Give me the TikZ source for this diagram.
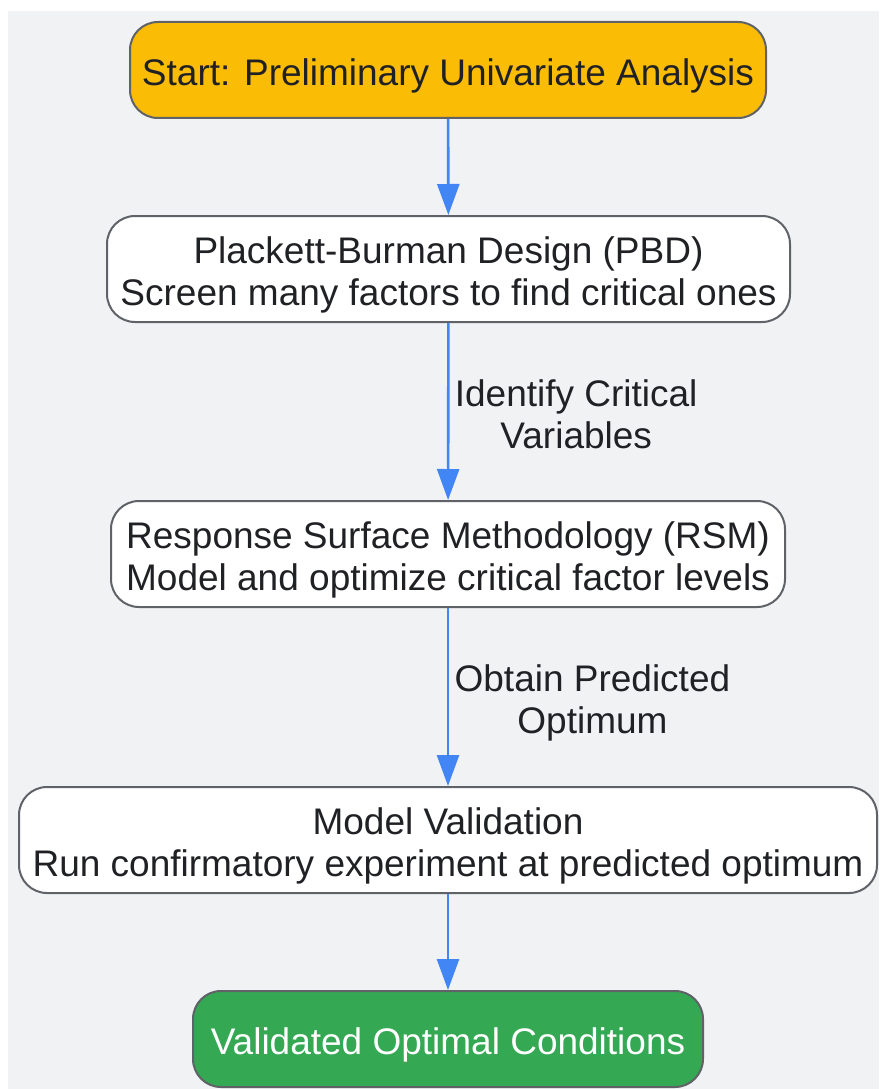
\documentclass[tikz,border=0pt]{standalone}
\usepackage{fontspec}
\setmainfont{Liberation Sans}
\usetikzlibrary{arrows.meta,positioning}
\definecolor{bgcol}{HTML}{F1F2F4}
\definecolor{edgecol}{HTML}{5F6368}
\definecolor{startcol}{HTML}{FBBC05}
\definecolor{endcol}{HTML}{34A853}
\definecolor{linkcol}{HTML}{4285F4}
\definecolor{txtcol}{HTML}{202124}
\tikzset{
  box/.style={rectangle, draw=edgecol, line width=2pt, rounded corners=28pt, fill=white,
    align=center, font=\fontsize{37}{42}\selectfont, text=txtcol, inner sep=0pt,
    execute at begin node={\rule{0pt}{#1}}},
  box/.default=38pt,
  link/.style={-{Triangle[length=31pt,width=22pt]}, draw=linkcol, line width=2.6pt},
  lbl/.style={align=center, font=\fontsize{37}{42}\selectfont, text=txtcol}
}
\begin{document}
\begin{tikzpicture}[x=1pt,y=-1pt]
    \useasboundingbox (0,0) rectangle (879,1089);
    \fill[bgcol] (8,11) rectangle (879,1089);

    % flow boxes
    \node[box, fill=startcol, minimum width=636pt, minimum height=96pt] (start) at (448,70) {Start: Preliminary Univariate Analysis};
    \node[box=81pt, minimum width=683pt, minimum height=106pt] (pbd) at (448.5,269) {Plackett-Burman Design (PBD)\\Screen many factors to find critical ones};
    \node[box=81pt, minimum width=674pt, minimum height=106pt] (rsm) at (448,554) {Response Surface Methodology (RSM)\\Model and optimize critical factor levels};
    \node[box=81pt, minimum width=858pt, minimum height=106pt] (valid) at (448,840) {Model Validation\\Run confirmatory experiment at predicted optimum};
    \node[box, fill=endcol, text=white, minimum width=510pt, minimum height=96pt] (final) at (448,1039) {Validated Optimal Conditions};

    % links
    \draw[link] (start) -- (pbd);
    \draw[link] (pbd) -- node[lbl, anchor=west, xshift=2pt, yshift=-3pt] {Identify Critical\\Variables} (rsm);
    \draw[link] (rsm) -- node[lbl, anchor=west, xshift=2pt, yshift=-6pt] {Obtain Predicted\\Optimum} (valid);
    \draw[link] (valid) -- (final);
\end{tikzpicture}
\end{document}
